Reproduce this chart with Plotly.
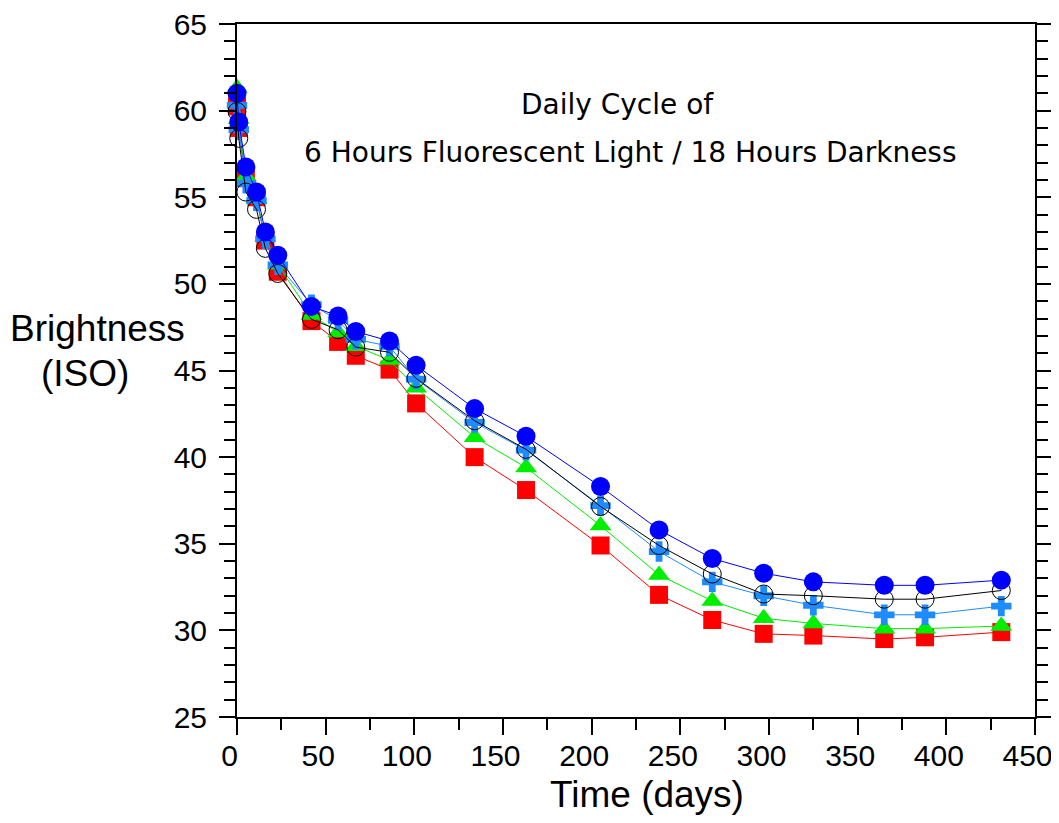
import plotly.graph_objects as go

days = [0, 1, 5, 11, 16, 23, 42, 57, 67, 86, 101, 134, 163, 205, 238, 268, 297, 325, 365, 388, 431]

red_sq = [60.25, 59.0, 56.1, 55.0, 52.5, 50.7, 47.85, 46.65, 45.85, 45.05, 43.1, 40.0, 38.1, 34.9, 32.05, 30.6, 29.8, 29.7, 29.5, 29.6, 29.9]
green_tri = [61.3, 59.5, 56.2, 54.9, 52.7, 51.1, 48.2, 47.2, 46.4, 45.6, 44.0, 41.15, 39.4, 36.05, 33.2, 31.7, 30.7, 30.4, 30.1, 30.1, 30.25]
lblue_plus = [60.3, 58.9, 55.8, 54.8, 52.6, 51.1, 48.8, 47.9, 46.8, 46.4, 44.5, 42.0, 40.4, 37.2, 34.55, 32.8, 32.0, 31.45, 30.9, 30.9, 31.4]
black_open = [59.95, 58.4, 55.3, 54.3, 52.05, 50.6, 47.95, 47.35, 46.35, 46.05, 44.55, 42.1, 40.45, 37.15, 34.9, 33.25, 32.1, 32.0, 31.8, 31.8, 32.3]
blue_dot = [61.0, 59.35, 56.75, 55.3, 53.0, 51.65, 48.7, 48.15, 47.25, 46.7, 45.3, 42.8, 41.2, 38.3, 35.8, 34.15, 33.3, 32.8, 32.6, 32.6, 32.9]

x_ticks = [0, 50, 100, 150, 200, 250, 300, 350, 400, 450]
y_ticks = [25, 30, 35, 40, 45, 50, 55, 60, 65]

title_lines = ["Daily Cycle of", "6 Hours Fluorescent Light / 18 Hours Darkness"]
x_title = "Time (days)"
y_title_lines = ["Brightness", "(ISO)"]

fig = go.Figure()

series = [
    (red_sq, "#FF0000", "square", 18, None),
    (green_tri, "#00EE00", "triangle-up", 19, None),
    (lblue_plus, "#1E8CFF", "cross", 17, None),
    (black_open, "#000000", "circle-open", 18, 1),
    (blue_dot, "#0000FF", "circle", 19, None),
]
for ys, col, sym, size, lw in series:
    marker = dict(symbol=sym, size=size, color=col)
    if lw is not None:
        marker["line"] = dict(width=lw, color=col)
    else:
        marker["line"] = dict(width=0)
    fig.add_trace(go.Scatter(x=days, y=ys, mode="lines+markers",
                             line=dict(color=col, width=1), marker=marker,
                             showlegend=False, cliponaxis=False))

axis_font = dict(family="Liberation Sans, Arial, sans-serif", size=30, color="black")

# invisible trailing glyph nudges the x tick labels slightly left, as in the reference
pad = '<span style="color:rgba(0,0,0,0)">x</span>'
fig.update_xaxes(range=[0, 450], tickvals=x_ticks, ticktext=[f"{v}{pad}" for v in x_ticks],
                 ticks="outside",
                 ticklen=16, tickwidth=2, tickcolor="black", showline=True, linewidth=2,
                 linecolor="black", mirror=True, showgrid=False, zeroline=False,
                 tickfont=axis_font, ticklabelstandoff=-5, automargin=False,
                 ticklabeloverflow="allow",
                 minor=dict(tickvals=list(range(25, 451, 50)), ticks="outside", ticklen=11,
                            tickwidth=2, tickcolor="black", showgrid=False))
fig.update_yaxes(range=[25, 65], tickvals=y_ticks, ticks="outside",
                 ticklen=16, tickwidth=2, tickcolor="black", showline=True, linewidth=2,
                 linecolor="black", mirror="ticks", showgrid=False, zeroline=False,
                 tickfont=axis_font, ticklabelstandoff=6, automargin=False,
                 ticklabeloverflow="allow",
                 minor=dict(dtick=1, ticks="outside", ticklen=11, tickwidth=2,
                            tickcolor="black", showgrid=False))

# page body has an 8px margin; positions below are in window pixels
OFF = 8
W, H = 1051, 807
L = 237 - OFF
T = 24 - OFF
R = W - (1035 - OFF)
B = H - (717 - OFF)
pw, ph = W - L - R, H - T - B

def px(x):
    return (x - OFF - L) / pw

def py(y):
    return (H - B - (y - OFF)) / ph

ann_font = dict(family="DejaVu Sans, Verdana, sans-serif", size=28, color="black")
title_font = dict(family="Liberation Sans, Arial, sans-serif", size=37, color="black")

anns = [
    dict(text=title_lines[0], x=px(617), y=py(104), font=ann_font),
    dict(text=title_lines[1], x=px(630), y=py(152), font=ann_font),
    dict(text=x_title, x=px(647), y=py(794), font=title_font),
    dict(text=y_title_lines[0], x=px(97), y=py(328), font=title_font),
    dict(text=y_title_lines[1], x=px(85), y=py(373), font=title_font),
]
for a in anns:
    fig.add_annotation(xref="paper", yref="paper", showarrow=False,
                       xanchor="center", yanchor="middle", **a)

fig.update_layout(width=W, height=H, margin=dict(l=L, r=R, t=T, b=B, autoexpand=False),
                  plot_bgcolor="white", paper_bgcolor="white")

fig.write_html("out.html")
